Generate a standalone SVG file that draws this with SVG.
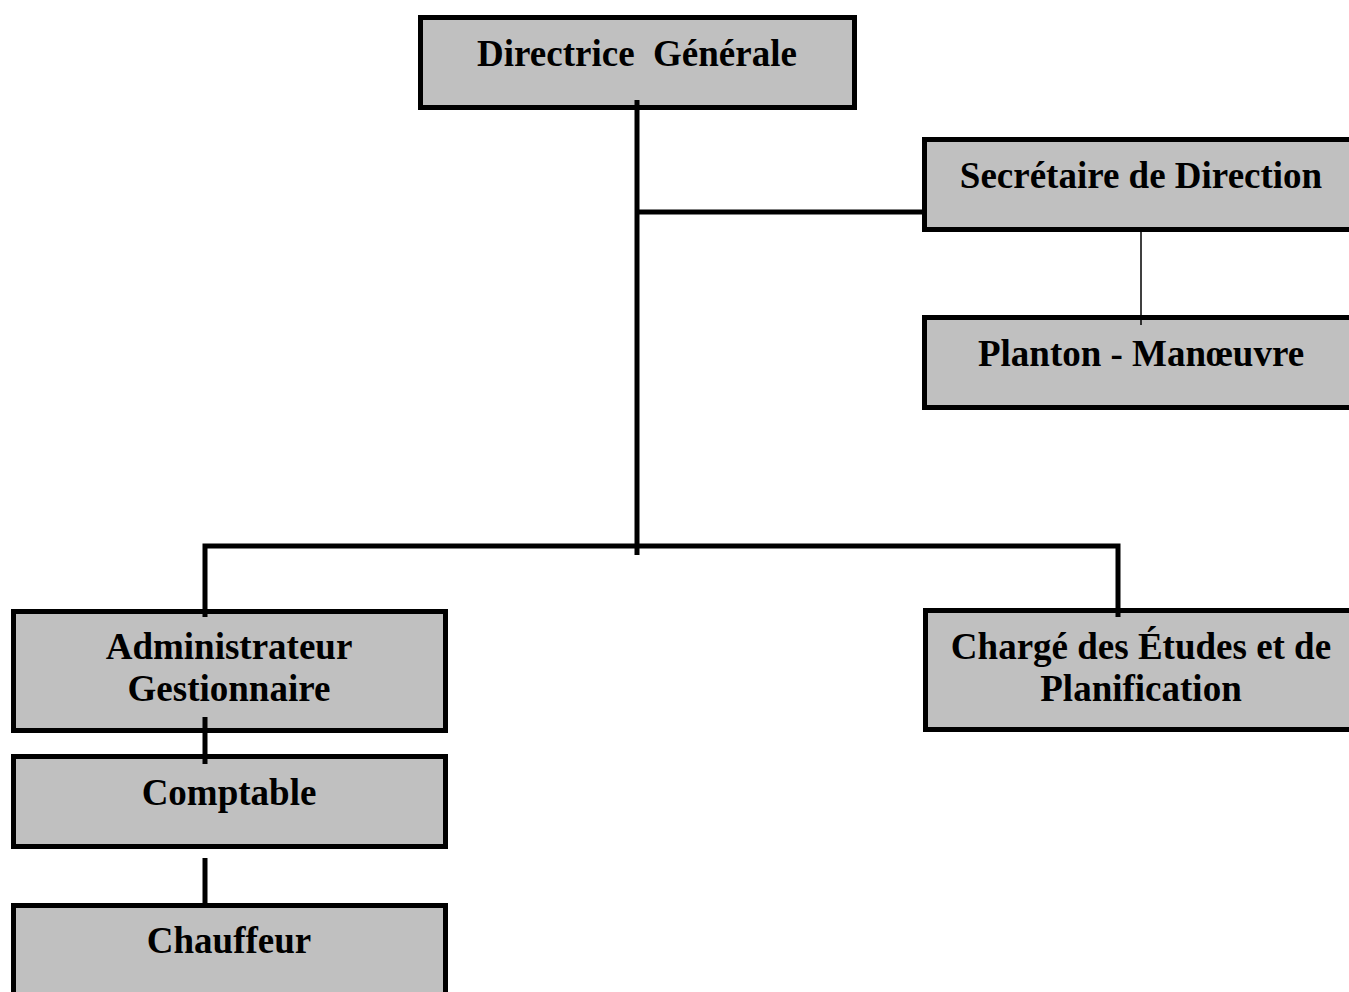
<svg xmlns="http://www.w3.org/2000/svg" width="1349" height="992" viewBox="0 0 1349 992">
<style>
.box{fill:#c0c0c0;stroke:#000;stroke-width:5}
.lbl{font-family:"Liberation Serif","Times New Roman",serif;font-weight:bold;font-size:37px;fill:#000;text-anchor:middle}
.con{fill:none;stroke:#000;stroke-width:5;stroke-linejoin:miter}
.thin{fill:none;stroke:#000;stroke-width:1.5}
</style>
<rect width="1349" height="992" fill="#fff"/>
<g id="n-directrice"><rect class="box" x="420.5" y="17.5" width="434" height="90"/><text class="lbl" x="637" y="66" xml:space="preserve">Directrice  Générale</text></g>
<g id="n-secretaire"><rect class="box" x="924.5" y="139.5" width="434" height="90"/><text class="lbl" x="1141" y="188">Secrétaire de Direction</text></g>
<g id="n-planton"><rect class="box" x="924.5" y="317.5" width="434" height="90"/><text class="lbl" x="1141" y="366">Planton - Manœuvre</text></g>
<g id="n-admin"><rect class="box" x="13.5" y="611.5" width="432" height="119"/><text class="lbl" x="229" y="659">Administrateur</text><text class="lbl" x="229" y="701">Gestionnaire</text></g>
<g id="n-comptable"><rect class="box" x="13.5" y="756.5" width="432" height="90"/><text class="lbl" x="229" y="805">Comptable</text></g>
<g id="n-chauffeur"><rect class="box" x="13.5" y="905.5" width="432" height="100"/><text class="lbl" x="229" y="953">Chauffeur</text></g>
<g id="n-charge"><rect class="box" x="925.5" y="610.5" width="432" height="119"/><text class="lbl" x="1141" y="659">Chargé des Études et de</text><text class="lbl" x="1141" y="701">Planification</text></g>
<g id="connectors">
<line class="con" x1="637" y1="100" x2="637" y2="555"/>
<line class="con" x1="637" y1="212" x2="924" y2="212"/>
<polyline class="con" points="205,617 205,546 1118,546 1118,617"/>
<line class="con" x1="205" y1="717" x2="205" y2="764"/>
<line class="con" x1="205" y1="858" x2="205" y2="907"/>
<line class="thin" x1="1141" y1="232" x2="1141" y2="325"/>
</g>
</svg>
